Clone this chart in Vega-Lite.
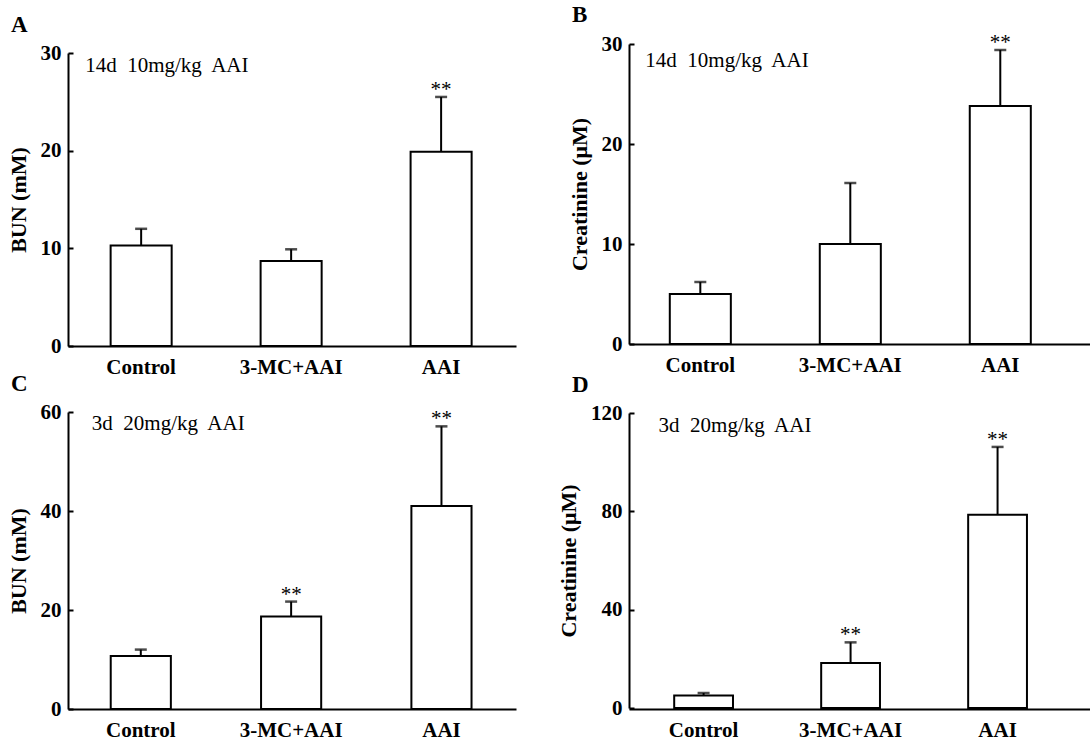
{
  "$schema": "https://vega.github.io/schema/vega-lite/v6.json",
  "padding": {"left": 7, "top": 4, "right": 0, "bottom": 0},
  "background": "white",
  "datasets": {
    "bars": [
      {"panel": "A", "group": "Control", "value": 10.3, "err": 12.0, "sig": ""},
      {"panel": "A", "group": "3-MC+AAI", "value": 8.7, "err": 9.9, "sig": ""},
      {"panel": "A", "group": "AAI", "value": 19.9, "err": 25.5, "sig": "**"},
      {"panel": "B", "group": "Control", "value": 5.0, "err": 6.2, "sig": ""},
      {"panel": "B", "group": "3-MC+AAI", "value": 10.0, "err": 16.1, "sig": ""},
      {"panel": "B", "group": "AAI", "value": 23.8, "err": 29.4, "sig": "**"},
      {"panel": "C", "group": "Control", "value": 10.7, "err": 12.0, "sig": ""},
      {"panel": "C", "group": "3-MC+AAI", "value": 18.7, "err": 21.7, "sig": "**"},
      {"panel": "C", "group": "AAI", "value": 41.0, "err": 57.1, "sig": "**"},
      {"panel": "D", "group": "Control", "value": 5.1, "err": 6.1, "sig": ""},
      {"panel": "D", "group": "3-MC+AAI", "value": 18.3, "err": 26.7, "sig": "**"},
      {"panel": "D", "group": "AAI", "value": 78.6, "err": 106.2, "sig": "**"}
    ]
  },
  "columns": 2,
  "spacing": {"row": 66, "column": 113},
  "bounds": "flush",
  "concat": [
    {
      "width": 448, "height": 302,
      "title": {"text": "A"},
      "data": {"name": "bars"},
      "transform": [{"filter": "datum.panel == 'A'"}],
      "encoding": {
        "x": {"field": "group", "type": "nominal", "sort": ["Control", "3-MC+AAI", "AAI"],
              "scale": {"paddingInner": 0.593, "paddingOuter": 0.29, "align": 0.49}}
      },
      "layer": [
        {"mark": {"type": "bar", "fill": "white", "stroke": "black", "strokeWidth": 2},
         "encoding": {"y": {"field": "value", "type": "quantitative", "title": "BUN (mM)",
           "scale": {"domain": [0, 30], "range": [302, 9]}, "axis": {"values": [0, 10, 20, 30], "titleFontSize": 22, "labelFontSize": 21}}}},
        {"mark": {"type": "rule", "stroke": "black", "strokeWidth": 2},
         "encoding": {"y": {"field": "value", "type": "quantitative"}, "y2": {"field": "err"}}},
        {"mark": {"type": "tick", "color": "black", "size": 12, "thickness": 2.5},
         "encoding": {"y": {"field": "err", "type": "quantitative"}}},
        {"mark": {"type": "text", "fontSize": 21, "baseline": "alphabetic", "dy": -1},
         "encoding": {"y": {"field": "err", "type": "quantitative"}, "text": {"field": "sig"}}},
        {"data": {"values": [{"note": "14d\u00a0 10mg/kg\u00a0 AAI"}]},
         "mark": {"type": "text", "fontSize": 21, "align": "left", "baseline": "alphabetic", "dx": -56},
         "encoding": {"x": {"datum": "Control"}, "y": {"datum": 28.05}, "text": {"field": "note"}}}
      ]
    },
    {
      "width": 463, "height": 300,
      "title": {"text": "B"},
      "data": {"name": "bars"},
      "transform": [{"filter": "datum.panel == 'B'"}],
      "encoding": {
        "x": {"field": "group", "type": "nominal", "sort": ["Control", "3-MC+AAI", "AAI"],
              "scale": {"paddingInner": 0.593, "paddingOuter": 0.34, "align": 0.4}}
      },
      "layer": [
        {"mark": {"type": "bar", "fill": "white", "stroke": "black", "strokeWidth": 2},
         "encoding": {"y": {"field": "value", "type": "quantitative", "title": "Creatinine (\u03bcM)",
           "scale": {"domain": [0, 30]}, "axis": {"values": [0, 10, 20, 30], "titleFontSize": 22, "labelFontSize": 21}}}},
        {"mark": {"type": "rule", "stroke": "black", "strokeWidth": 2},
         "encoding": {"y": {"field": "value", "type": "quantitative"}, "y2": {"field": "err"}}},
        {"mark": {"type": "tick", "color": "black", "size": 12, "thickness": 2.5},
         "encoding": {"y": {"field": "err", "type": "quantitative"}}},
        {"mark": {"type": "text", "fontSize": 21, "baseline": "alphabetic", "dy": -1},
         "encoding": {"y": {"field": "err", "type": "quantitative"}, "text": {"field": "sig"}}},
        {"data": {"values": [{"note": "14d\u00a0 10mg/kg\u00a0 AAI"}]},
         "mark": {"type": "text", "fontSize": 21, "align": "left", "baseline": "alphabetic", "dx": -55},
         "encoding": {"x": {"datum": "Control"}, "y": {"datum": 27.7}, "text": {"field": "note"}}}
      ]
    },
    {
      "width": 448, "height": 297,
      "title": {"text": "C"},
      "data": {"name": "bars"},
      "transform": [{"filter": "datum.panel == 'C'"}],
      "encoding": {
        "x": {"field": "group", "type": "nominal", "sort": ["Control", "3-MC+AAI", "AAI"],
              "scale": {"paddingInner": 0.6, "paddingOuter": 0.29, "align": 0.49}}
      },
      "layer": [
        {"mark": {"type": "bar", "fill": "white", "stroke": "black", "strokeWidth": 2},
         "encoding": {"y": {"field": "value", "type": "quantitative", "title": "BUN (mM)",
           "scale": {"domain": [0, 60]}, "axis": {"values": [0, 20, 40, 60], "titleFontSize": 22, "labelFontSize": 21}}}},
        {"mark": {"type": "rule", "stroke": "black", "strokeWidth": 2},
         "encoding": {"y": {"field": "value", "type": "quantitative"}, "y2": {"field": "err"}}},
        {"mark": {"type": "tick", "color": "black", "size": 12, "thickness": 2.5},
         "encoding": {"y": {"field": "err", "type": "quantitative"}}},
        {"mark": {"type": "text", "fontSize": 21, "baseline": "alphabetic", "dy": -1},
         "encoding": {"y": {"field": "err", "type": "quantitative"}, "text": {"field": "sig"}}},
        {"data": {"values": [{"note": "3d\u00a0 20mg/kg\u00a0 AAI"}]},
         "mark": {"type": "text", "fontSize": 21, "align": "left", "baseline": "alphabetic", "dx": -49},
         "encoding": {"x": {"datum": "Control"}, "y": {"datum": 56.3}, "text": {"field": "note"}}}
      ]
    },
    {
      "width": 463, "height": 297,
      "title": {"text": "D"},
      "data": {"name": "bars"},
      "transform": [{"filter": "datum.panel == 'D'"}],
      "encoding": {
        "x": {"field": "group", "type": "nominal", "sort": ["Control", "3-MC+AAI", "AAI"],
              "scale": {"paddingInner": 0.6, "paddingOuter": 0.375, "align": 0.41}}
      },
      "layer": [
        {"mark": {"type": "bar", "fill": "white", "stroke": "black", "strokeWidth": 2},
         "encoding": {"y": {"field": "value", "type": "quantitative", "title": "Creatinine (\u03bcM)",
           "scale": {"domain": [0, 120], "range": [296, 1]}, "axis": {"values": [0, 40, 80, 120], "titleFontSize": 22, "labelFontSize": 21}}}},
        {"mark": {"type": "rule", "stroke": "black", "strokeWidth": 2},
         "encoding": {"y": {"field": "value", "type": "quantitative"}, "y2": {"field": "err"}}},
        {"mark": {"type": "tick", "color": "black", "size": 12, "thickness": 2.5},
         "encoding": {"y": {"field": "err", "type": "quantitative"}}},
        {"mark": {"type": "text", "fontSize": 21, "baseline": "alphabetic", "dy": -1},
         "encoding": {"y": {"field": "err", "type": "quantitative"}, "text": {"field": "sig"}}},
        {"data": {"values": [{"note": "3d\u00a0 20mg/kg\u00a0 AAI"}]},
         "mark": {"type": "text", "fontSize": 21, "align": "left", "baseline": "alphabetic", "dx": -45},
         "encoding": {"x": {"datum": "Control"}, "y": {"datum": 112.4}, "text": {"field": "note"}}}
      ]
    }
  ],
  "config": {
    "font": "Liberation Serif",
    "view": {"stroke": null},
    "text": {"font": "Liberation Serif", "color": "black"},
    "axis": {
      "domainColor": "black", "domainWidth": 2, "tickColor": "black", "tickWidth": 2,
      "labelColor": "black", "titleColor": "black",
      "labelFont": "Liberation Serif", "titleFont": "Liberation Serif",
      "labelFontWeight": "bold", "titleFontWeight": "bold",
      "labelFontSize": 21, "titleFontSize": 22, "grid": false
    },
    "axisX": {"ticks": false, "labelAngle": 0, "title": null, "labelPadding": 10, "labelFontSize": 21},
    "axisY": {"tickSize": -5, "labelPadding": 12, "titlePadding": 10},
    "title": {"font": "Liberation Serif", "fontSize": 23, "fontWeight": "bold", "anchor": "start",
              "frame": "group", "dx": -57, "offset": 5, "color": "black"}
  }
}
